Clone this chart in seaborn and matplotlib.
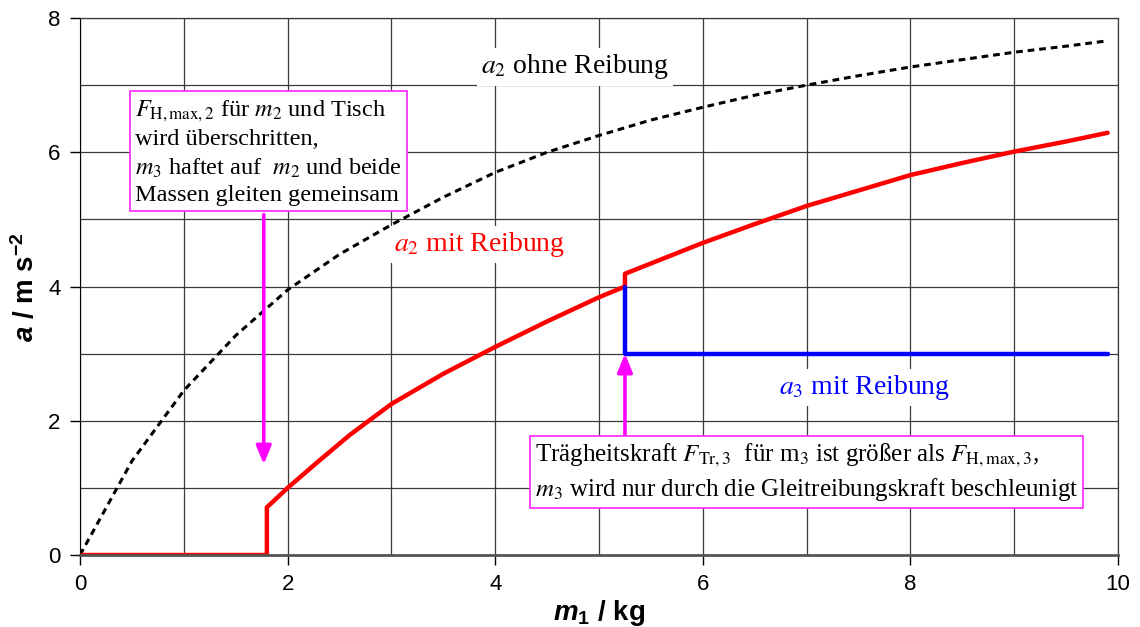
import numpy as np
import pandas as pd
import seaborn as sns
import matplotlib
matplotlib.use('Agg')
import matplotlib.pyplot as plt

# -------------------------------------------------------------------------
# Beschleunigung a in Abhängigkeit von m1
# -------------------------------------------------------------------------

# a2 ohne Reibung (gestrichelt)
m1_free = [0.0, 0.5, 1.0, 1.5, 2.0, 2.5, 3.0, 3.5, 4.0, 4.5, 5.0, 5.5,
           6.0, 6.5, 7.0, 7.5, 8.0, 8.5, 9.0, 9.5, 9.9]
a2_free = [0.0, 1.40, 2.45, 3.27, 3.95, 4.48, 4.92, 5.33, 5.70, 6.00, 6.25, 6.48,
           6.67, 6.85, 7.00, 7.14, 7.27, 7.38, 7.49, 7.58, 7.66]

# a2 mit Reibung (rot)
m1_fric = [0.0, 1.8, 1.8, 2.0, 2.3, 2.6, 3.0, 3.5, 4.0, 4.5, 5.0, 5.25,
           5.25, 6.0, 6.5, 7.0, 7.5, 8.0, 8.5, 9.0, 9.5, 9.9]
a2_fric = [0.0, 0.0, 0.71, 1.0, 1.40, 1.79, 2.25, 2.70, 3.10, 3.48, 3.84, 4.0,
           4.19, 4.65, 4.93, 5.20, 5.43, 5.66, 5.84, 6.01, 6.16, 6.29]

# a3 mit Reibung (blau)
m1_a3 = [5.25, 5.25, 9.9]
a3_fric = [4.0, 3.0, 3.0]

# Pfeile (Start, Ende)
arrow1 = ((1.77, 5.07), (1.77, 1.35))
arrow2 = ((5.25, 1.78), (5.25, 3.0))

df_free = pd.DataFrame({'m1': m1_free, 'a': a2_free})
df_fric = pd.DataFrame({'m1': m1_fric, 'a': a2_fric})
df_a3 = pd.DataFrame({'m1': m1_a3, 'a': a3_fric})

sns.set_style('white')
plt.rcParams['font.family'] = ['Liberation Sans', 'DejaVu Sans']
plt.rcParams['mathtext.fontset'] = 'custom'
plt.rcParams['mathtext.rm'] = 'Liberation Sans'
plt.rcParams['mathtext.it'] = 'Liberation Sans:italic'
plt.rcParams['mathtext.bf'] = 'Liberation Sans:bold'
plt.rcParams['mathtext.bfit'] = 'Liberation Sans:italic:bold'

fig = plt.figure(figsize=(11.4, 6.27), dpi=100)
ax = fig.add_axes([0.0702, 0.1148, 0.9105, 0.8565])

sns.lineplot(data=df_free, x='m1', y='a', color='black', lw=2.2,
             linestyle=(0, (2.2, 1.6)), sort=False, estimator=None, ax=ax)
sns.lineplot(data=df_fric, x='m1', y='a', color='#ff0000', lw=3.2,
             sort=False, estimator=None, ax=ax)
sns.lineplot(data=df_a3, x='m1', y='a', color='#0000ff', lw=3.2,
             sort=False, estimator=None, ax=ax)

ax.set_xlim(0, 10)
ax.set_ylim(0, 8)
ax.set_xticks([0, 2, 4, 6, 8, 10])
ax.set_yticks([0, 2, 4, 6, 8])
ax.set_xticks(np.arange(0, 11, 1), minor=True)
ax.set_yticks(np.arange(0, 9, 1), minor=True)
ax.grid(which='both', color='#3a3a3a', lw=0.9)
ax.set_axisbelow(True)
ax.tick_params(axis='both', which='major', direction='out', length=7,
               width=1, color='black', labelcolor='black', labelsize=16,
               pad=7, left=True, bottom=True)
ax.tick_params(which='minor', length=0)
for s in ['top', 'right']:
    ax.spines[s].set_color('#3a3a3a')
    ax.spines[s].set_linewidth(0.9)
ax.spines['left'].set_color('black')
ax.spines['bottom'].set_color('#555555')
ax.spines['bottom'].set_linewidth(2)

ax.set_xlabel(r'$\mathbfit{m}_{\mathbf{1}}$ / kg', fontsize=20, fontweight='bold',
              color='black', labelpad=2)
ax.set_ylabel(r'$\mathbfit{a}$ / m s$^{\mathbf{-2}}$', fontsize=20, fontweight='bold',
              color='black', labelpad=6)

serif = ['Liberation Serif', 'DejaVu Serif']

# Beschriftung der Kurven
ax.text(4.77, 7.27, r'$a_2$ ohne Reibung', family=serif, math_fontfamily='stix',
        fontsize=20, ha='center', va='center', color='black',
        bbox=dict(facecolor='white', edgecolor='none', pad=3))
ax.text(3.85, 4.63, r'$a_2$ mit Reibung', family=serif, math_fontfamily='stix',
        fontsize=20, ha='center', va='center', color='#ff0000',
        bbox=dict(facecolor='white', edgecolor='none', pad=3))
ax.text(7.56, 2.5, r'$a_3$ mit Reibung', family=serif, math_fontfamily='stix',
        fontsize=20, ha='center', va='center', color='#0000ff',
        bbox=dict(facecolor='white', edgecolor='none', pad=3))

# Pfeile
for start, end in [arrow1, arrow2]:
    ax.annotate('', xy=end, xytext=start,
                arrowprops=dict(arrowstyle='-|>,head_width=0.45,head_length=1.1',
                                color='#ff00ff', lw=2.6, shrinkA=0, shrinkB=0))

# Textkästen
box = dict(facecolor='white', edgecolor='#ff33ff', lw=1.3, boxstyle='square,pad=0.2')
ax.text(0.53, 6.0,
        r'$F_{\rm H,max,2}$ für $m_2$ und Tisch' '\n'
        r'wird überschritten,' '\n'
        r'$m_3$ haftet auf  $m_2$ und beide' '\n'
        r'Massen gleiten gemeinsam',
        family=serif, math_fontfamily='stix', fontsize=17.5, linespacing=1.35,
        ha='left', va='center', color='black', bbox=box)
ax.text(4.38, 1.23,
        r'Trägheitskraft $F_{\rm Tr,3}$  für m$_3$ ist größer als $F_{\rm H,max,3}$,' '\n'
        r'$m_3$ wird nur durch die Gleitreibungskraft beschleunigt',
        family=serif, math_fontfamily='stix', fontsize=18, linespacing=1.35,
        ha='left', va='center', color='black', bbox=box)

fig.savefig('out.png', dpi=100)
